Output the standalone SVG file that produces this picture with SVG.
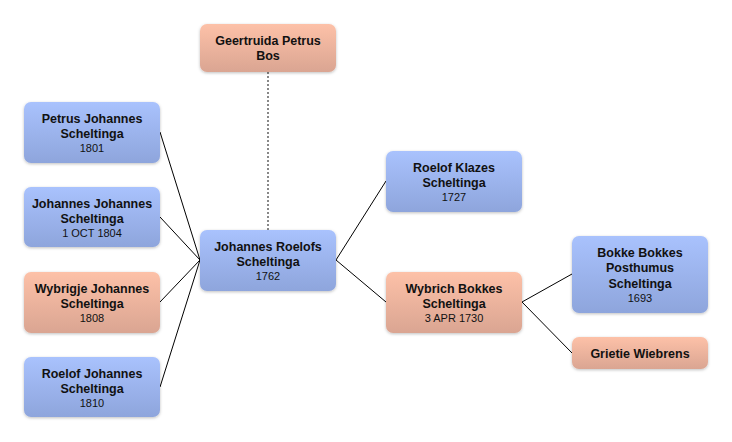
<svg xmlns="http://www.w3.org/2000/svg" width="732" height="442" viewBox="0 0 732 442">
<defs>
<linearGradient id="gBlue" x1="0" y1="0" x2="0" y2="1">
<stop offset="0" stop-color="#a9c2fd"/>
<stop offset="1" stop-color="#8ea5dc"/>
</linearGradient>
<linearGradient id="gPink" x1="0" y1="0" x2="0" y2="1">
<stop offset="0" stop-color="#fdc1a8"/>
<stop offset="1" stop-color="#daa592"/>
</linearGradient>
<filter id="sh" x="-10%" y="-10%" width="120%" height="130%">
<feDropShadow dx="0" dy="1" stdDeviation="1.5" flood-color="#000" flood-opacity="0.25"/>
</filter>
</defs>
<style>
.male{fill:url(#gBlue);filter:url(#sh)}
.female{fill:url(#gPink);filter:url(#sh)}
.n{font-family:"Liberation Sans",Arial,sans-serif;font-size:12.5px;font-weight:bold;fill:#111;text-anchor:middle}
.d{font-family:"Liberation Sans",Arial,sans-serif;font-size:11px;fill:#111;text-anchor:middle}
.c{stroke:#000;stroke-width:1;fill:none}
.dash{stroke:#888;stroke-width:2;stroke-dasharray:2 2;fill:none}
</style>
<rect width="732" height="442" fill="#fff"/>
<g id="connectors">
<line class="dash" x1="268" y1="72" x2="268" y2="230"/>
<polyline class="c" points="160,132 200,260"/>
<polyline class="c" points="160,217 200,260"/>
<polyline class="c" points="160,302 200,260"/>
<polyline class="c" points="160,387 200,260"/>
<polyline class="c" points="386,181 336,260 386,302"/>
<polyline class="c" points="572,274 522,302 572,353"/>
</g>
<g id="geertruida">
<rect class="female" x="200" y="24" width="136" height="48" rx="7"/>
<text class="n" x="268" y="45">Geertruida Petrus</text>
<text class="n" x="268" y="60">Bos</text>
</g>
<g id="petrus">
<rect class="male" x="24" y="102" width="136" height="61" rx="7"/>
<text class="n" x="92" y="123">Petrus Johannes</text>
<text class="n" x="92" y="138">Scheltinga</text>
<text class="d" x="92" y="152">1801</text>
</g>
<g id="johannesj">
<rect class="male" x="24" y="187" width="136" height="60" rx="7"/>
<text class="n" x="92" y="208">Johannes Johannes</text>
<text class="n" x="92" y="223">Scheltinga</text>
<text class="d" x="92" y="237">1 OCT 1804</text>
</g>
<g id="wybrigje">
<rect class="female" x="24" y="272" width="136" height="61" rx="7"/>
<text class="n" x="92" y="293">Wybrigje Johannes</text>
<text class="n" x="92" y="308">Scheltinga</text>
<text class="d" x="92" y="322">1808</text>
</g>
<g id="roelofj">
<rect class="male" x="24" y="357" width="136" height="60" rx="7"/>
<text class="n" x="92" y="378">Roelof Johannes</text>
<text class="n" x="92" y="393">Scheltinga</text>
<text class="d" x="92" y="407">1810</text>
</g>
<g id="johannesr">
<rect class="male" x="200" y="230" width="136" height="61" rx="7"/>
<text class="n" x="268" y="251">Johannes Roelofs</text>
<text class="n" x="268" y="266">Scheltinga</text>
<text class="d" x="268" y="280">1762</text>
</g>
<g id="roelofk">
<rect class="male" x="386" y="151" width="136" height="61" rx="7"/>
<text class="n" x="454" y="172">Roelof Klazes</text>
<text class="n" x="454" y="187">Scheltinga</text>
<text class="d" x="454" y="201">1727</text>
</g>
<g id="wybrich">
<rect class="female" x="386" y="272" width="136" height="61" rx="7"/>
<text class="n" x="454" y="293">Wybrich Bokkes</text>
<text class="n" x="454" y="308">Scheltinga</text>
<text class="d" x="454" y="322">3 APR 1730</text>
</g>
<g id="bokke">
<rect class="male" x="572" y="236" width="136" height="77" rx="7"/>
<text class="n" x="640" y="257">Bokke Bokkes</text>
<text class="n" x="640" y="272">Posthumus</text>
<text class="n" x="640" y="288">Scheltinga</text>
<text class="d" x="640" y="302">1693</text>
</g>
<g id="grietie">
<rect class="female" x="572" y="337" width="136" height="32" rx="7"/>
<text class="n" x="640" y="358">Grietie Wiebrens</text>
</g>
</svg>
